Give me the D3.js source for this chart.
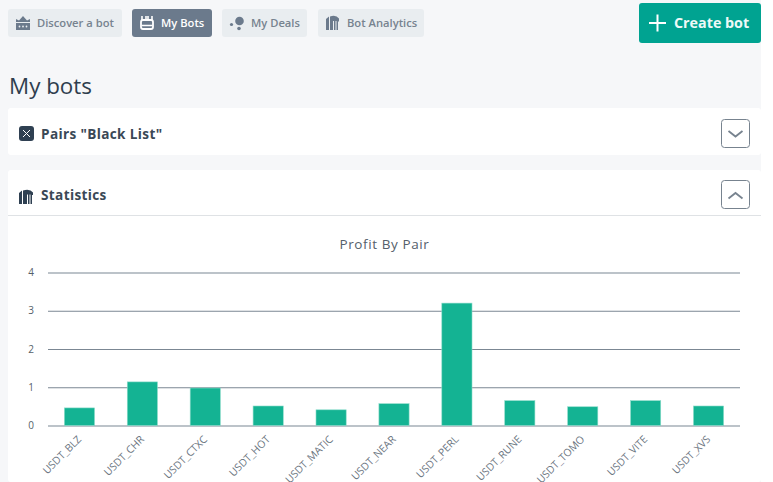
<!DOCTYPE html>
<html>
<head>
<meta charset="utf-8">
<script src="https://cdn.jsdelivr.net/npm/d3@7"></script>
<style>
  html, body { margin: 0; padding: 0; background: #fff; }
  svg { display: block; font-family: "Open Sans", "Noto Sans", sans-serif; }
</style>
</head>
<body>
<svg id="page" width="773" height="482"></svg>
<script>
const pairs = ["USDT_BLZ", "USDT_CHR", "USDT_CTXC", "USDT_HOT", "USDT_MATIC", "USDT_NEAR",
  "USDT_PERL", "USDT_RUNE", "USDT_TOMO", "USDT_VITE", "USDT_XVS"];
const profits = [0.46, 1.14, 0.98, 0.51, 0.41, 0.57, 3.2, 0.65, 0.49, 0.65, 0.51];
const yTicks = [0, 1, 2, 3, 4];
const navLabels = ["Discover a bot", "My Bots", "My Deals", "Bot Analytics"];
const navBoxes = [[8, 114], [132, 80], [222, 85], [318, 106]];

const svg = d3.select("#page");

// page background
svg.append("rect").attr("width", 761).attr("height", 482).attr("fill", "#f6f7f9");

// nav buttons
navLabels.forEach((label, i) => {
  const active = i === 1;
  const [x, w] = navBoxes[i];
  svg.append("rect").attr("x", x).attr("y", 9).attr("width", w).attr("height", 28).attr("rx", 3)
    .attr("fill", active ? "#6b7a8c" : "#e9edf0");
  svg.append("text").attr("x", x + 29).attr("y", 27)
    .attr("font-size", 11.2).attr("font-weight", 600)
    .attr("fill", active ? "#fff" : "#77838f").text(label);
});

// nav icons
const icon = "#6b7a8c";
svg.append("path").attr("fill", icon)
  .attr("d", "M16 30v-7h14v7zM16 22v-3l3 1.500 4-4.500 4 4.500 3-1.500v3z");
svg.append("g").attr("fill", "#e9edf0")
  .selectAll("circle").data([19.500, 23, 26.500]).join("circle")
  .attr("cx", d => d).attr("cy", 26.500).attr("r", 0.9);
svg.append("g").attr("fill", "none").attr("stroke", "#fff").attr("stroke-width", 1.8)
  .call(g => g.append("rect").attr("x", 141).attr("y", 20).attr("width", 12).attr("height", 9).attr("rx", 2))
  .call(g => g.append("path").attr("d", "M142 20v-4M152 20v-4M146 19v-3M148 19v-3M141.500 25.500h11").attr("stroke-width", 1.6));
svg.append("g").attr("fill", icon)
  .call(g => g.append("circle").attr("cx", 239.500).attr("cy", 21).attr("r", 4.300))
  .call(g => g.append("circle").attr("cx", 231.500).attr("cy", 24.500).attr("r", 1.600))
  .call(g => g.append("circle").attr("cx", 239).attr("cy", 28.500).attr("r", 1.800));
svg.append("path").attr("fill", icon)
  .attr("d", "M326 30v-11l3-2.500v13.500zM330 30v-13.500q6-2 9 2v3h-1v8.500h-1.500v-9h-1v9h-1.500v-9h-1v9z");

// create button
svg.append("rect").attr("x", 639).attr("y", 3).attr("width", 122).attr("height", 40).attr("rx", 3).attr("fill", "#00a391");
svg.append("path").attr("d", "M649 23h17M657.500 14.500v17").attr("stroke", "#fff").attr("stroke-width", 2).attr("fill", "none");
svg.append("text").attr("x", 674).attr("y", 28).attr("font-size", 14.3).attr("font-weight", 700)
  .attr("fill", "#eef9f7").text("Create bot");

// heading
svg.append("text").attr("x", 9).attr("y", 94).attr("font-size", 22.4).attr("font-weight", 500)
  .attr("fill", "#2f3e4e").text("My bots");

// panels
svg.append("rect").attr("x", 8).attr("y", 108).attr("width", 753).attr("height", 47).attr("rx", 3).attr("fill", "#fff");
svg.append("rect").attr("x", 8).attr("y", 170).attr("width", 753).attr("height", 312).attr("rx", 3).attr("fill", "#fff");
svg.append("line").attr("x1", 8).attr("x2", 761).attr("y1", 215.500).attr("y2", 215.500).attr("stroke", "#dfe2e5");

svg.append("rect").attr("x", 19).attr("y", 126).attr("width", 15).attr("height", 15).attr("rx", 3).attr("fill", "#2f4052");
svg.append("path").attr("d", "M23 130l7 7M30 130l-7 7").attr("stroke", "#fff").attr("stroke-width", 1).attr("fill", "none");
svg.append("path").attr("fill", "#2f4052")
  .attr("d", "M19 204v-11l3-2.500v13.500zM23 204v-13.500q7-2 10 2v2.500h-1v9h-1.500v-9.500h-1v9.500h-1.500v-9.500h-1v9.500z");

svg.append("text").attr("x", 41).attr("y", 139).attr("font-size", 13.6).attr("font-weight", 700)
  .attr("letter-spacing", 0.35).attr("fill", "#3a4856").text('Pairs "Black List"');
svg.append("text").attr("x", 41).attr("y", 200).attr("font-size", 13.6).attr("font-weight", 700)
  .attr("letter-spacing", 0.35).attr("fill", "#3a4856").text("Statistics");

// collapse toggles
[[119, "M728.500 131l7 5.500 7-5.500"], [180, "M728.500 198.500l7-5.500 7 5.500"]].forEach(([y, d]) => {
  svg.append("rect").attr("x", 721.500).attr("y", y + 0.5).attr("width", 28).attr("height", 28).attr("rx", 3)
    .attr("fill", "#fff").attr("stroke", "#77838f");
  svg.append("path").attr("d", d).attr("fill", "none").attr("stroke", "#77838f").attr("stroke-width", 1.800);
});

// chart
svg.append("text").attr("x", 384.500).attr("y", 249).attr("text-anchor", "middle")
  .attr("font-size", 13.5).attr("letter-spacing", 0.6).attr("fill", "#55606b").text("Profit By Pair");

const x = d3.scaleBand().domain(pairs).range([48, 740]).paddingInner(0.52).paddingOuter(0.26);
const y = d3.scaleLinear().domain([0, 4]).range([425.5, 272.5]);

const yAxis = svg.append("g").attr("transform", "translate(48,0)")
  .call(d3.axisLeft(y).tickValues(yTicks).tickSize(-692).tickPadding(14).tickFormat(d3.format("d")));
yAxis.select(".domain").remove();
yAxis.selectAll("line").attr("stroke", "#7b8793").attr("stroke-width", 1.1);
yAxis.selectAll("text").attr("font-size", 10).attr("fill", "#555f69").attr("font-family", "Open Sans, sans-serif");

svg.append("g").selectAll("rect").data(pairs).join("rect")
  .attr("x", d => x(d))
  .attr("width", x.bandwidth())
  .attr("y", (d, i) => y(profits[i]))
  .attr("height", (d, i) => y(0) - y(profits[i]))
  .attr("fill", "#14b393")
  .attr("stroke", "#8fdccb")
  .attr("stroke-width", 0.6);

const xAxis = svg.append("g").attr("transform", "translate(0,425.5)")
  .call(d3.axisBottom(x).tickSize(0));
xAxis.select(".domain").remove();
xAxis.selectAll("text")
  .attr("font-size", 10.4).attr("fill", "#6a7480").attr("font-family", "Open Sans, sans-serif")
  .attr("text-anchor", "end").attr("x", 0).attr("y", 0).attr("dy", 0)
  .attr("transform", "translate(2.5,14.5) rotate(-45)");
</script>
</body>
</html>
